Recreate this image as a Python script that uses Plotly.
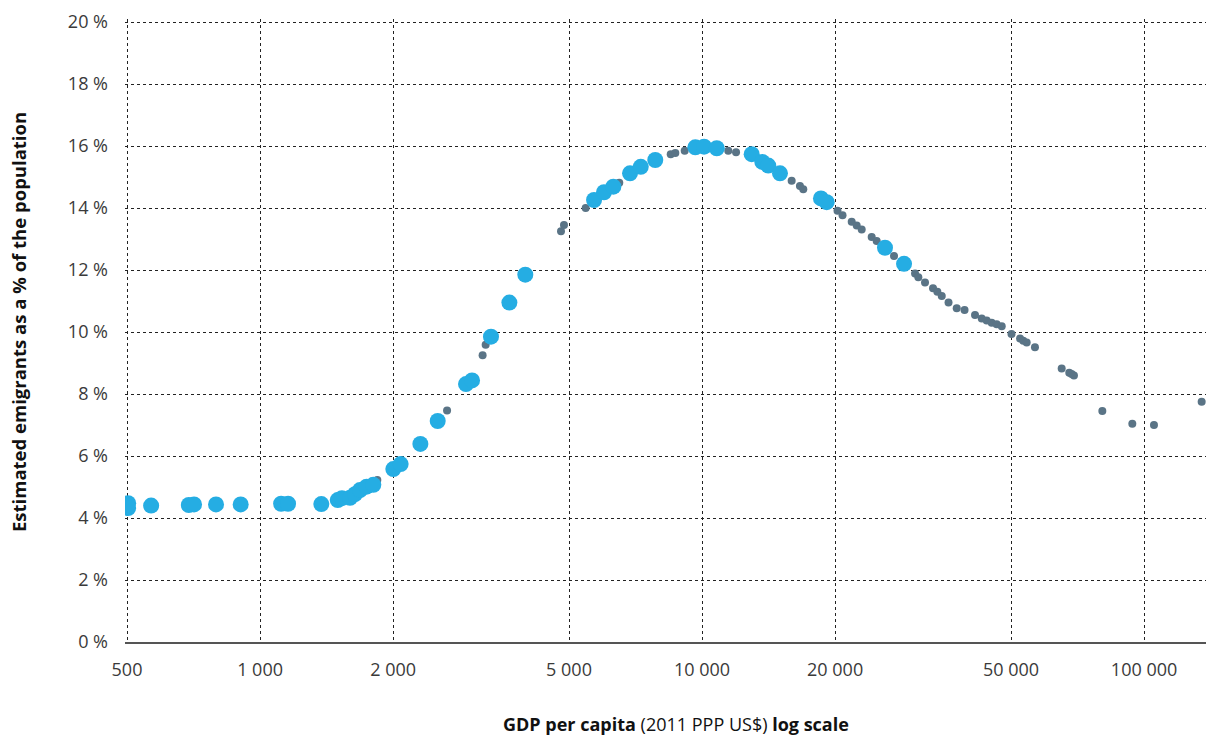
import numpy as np
import plotly.graph_objects as go

# Highlighted observations (light blue, large)
blue_gdp = [503, 503, 567, 690, 709, 795, 904, 1116, 1157, 1376, 1499, 1532, 1598, 1640,
            1683, 1742, 1804, 2002, 2080, 2305, 2523, 2924, 3017, 3330, 3665, 3982,
            5697, 6001, 6300, 6871, 7266, 7837, 9656, 10106, 10797, 12950, 13686,
            14118, 15008, 18579, 19142, 25935, 28641]
blue_pct = [4.48, 4.32, 4.40, 4.42, 4.44, 4.44, 4.44, 4.46, 4.46, 4.45, 4.58, 4.64, 4.65, 4.77,
            4.90, 5.01, 5.07, 5.58, 5.74, 6.39, 7.13, 8.32, 8.44, 9.85, 10.95, 11.85,
            14.26, 14.51, 14.69, 15.12, 15.33, 15.55, 15.96, 15.98, 15.93, 15.74, 15.49,
            15.37, 15.12, 14.31, 14.19, 12.72, 12.20]

# Other observations (dark slate, small)
grey_gdp = [1842, 2649, 3188, 3239, 4796, 4871, 5454, 6497, 8494, 8700, 9135, 11463, 11937,
            15949, 16653, 16944, 20250, 20787, 21806, 22382, 22973, 24197, 24836, 27184,
            30329, 30855, 31948, 33309, 34068, 34855, 36111, 37684, 39251, 41454, 42926,
            44052, 45216, 46406, 47640, 50129, 52410, 53304, 54257, 56646, 65108, 67734,
            68578, 69403, 80467, 94070, 105300, 135000]
grey_pct = [5.23, 7.47, 9.25, 9.59, 13.25, 13.45, 14.00, 14.82, 15.74, 15.78, 15.85, 15.85, 15.80,
            14.88, 14.71, 14.61, 13.91, 13.77, 13.56, 13.44, 13.31, 13.07, 12.94, 12.45,
            11.89, 11.77, 11.60, 11.41, 11.30, 11.16, 10.95, 10.77, 10.71, 10.55, 10.44,
            10.37, 10.30, 10.25, 10.19, 9.94, 9.79, 9.72, 9.66, 9.51, 8.82, 8.69,
            8.65, 8.60, 7.45, 7.04, 7.00, 7.75]

x_tickvals = [500, 1000, 2000, 5000, 10000, 20000, 50000, 100000]
x_ticktext = ["500", "1 000", "2 000", "5 000", "10 000", "20 000", "50 000", "100 000"]
y_tickvals = [0, 2, 4, 6, 8, 10, 12, 14, 16, 18, 20]
y_ticktext = ["0 %", "2 %", "4 %", "6 %", "8 %", "10 %", "12 %", "14 %", "16 %", "18 %", "20 %"]

BLUE = "#25ADE3"
GREY = "#5A7486"
TXT = "#3a3a3a"
FONT = "Open Sans, DejaVu Sans, sans-serif"

fig = go.Figure()
fig.add_trace(go.Scatter(x=grey_gdp, y=grey_pct, mode="markers",
                         marker=dict(color=GREY, size=8, line=dict(width=0)),
                         showlegend=False))
fig.add_trace(go.Scatter(x=blue_gdp, y=blue_pct, mode="markers",
                         marker=dict(color=BLUE, size=16, line=dict(width=0)),
                         showlegend=False))

L, T, W, H = 125, 19, 1081, 623

fig.update_layout(
    width=1206, height=738,
    margin=dict(l=L, r=0, t=T, b=738 - T - H),
    plot_bgcolor="white", paper_bgcolor="white",
    font=dict(family=FONT, color=TXT),
    annotations=[
        dict(text="<b>Estimated emigrants as a % of the population</b>",
             xref="paper", yref="paper", x=(18 - L) / W, y=(642 - 322) / H,
             xanchor="center", yanchor="middle", textangle=-90, showarrow=False,
             font=dict(size=18.5, color="#111111", family=FONT)),
        dict(text="<b>GDP per capita</b> (2011 PPP US$) <b>log scale</b>",
             xref="paper", yref="paper", x=(676 - L) / W, y=-(724 - 642) / H,
             xanchor="center", yanchor="middle", showarrow=False,
             font=dict(size=18, color="#111111", family=FONT)),
    ],
)
fig.update_xaxes(
    type="log",
    range=[np.log10(500) - 2 / 442, np.log10(500) + 1079 / 442],
    tickvals=x_tickvals, ticktext=x_ticktext,
    tickfont=dict(size=18, color=TXT, family=FONT),
    ticks="", ticklabelstandoff=10,
    showgrid=True, gridcolor="#222222", griddash="dot", gridwidth=1,
    showline=True, linecolor="#555555", linewidth=2,
    zeroline=False,
)
fig.update_yaxes(
    range=[0, 20.1],
    tickvals=y_tickvals, ticktext=y_ticktext,
    tickfont=dict(size=18, color=TXT, family=FONT),
    ticks="", ticklabelstandoff=16,
    showgrid=True, gridcolor="#222222", griddash="dot", gridwidth=1,
    showline=False, zeroline=False,
)

fig.write_html("out.html")
